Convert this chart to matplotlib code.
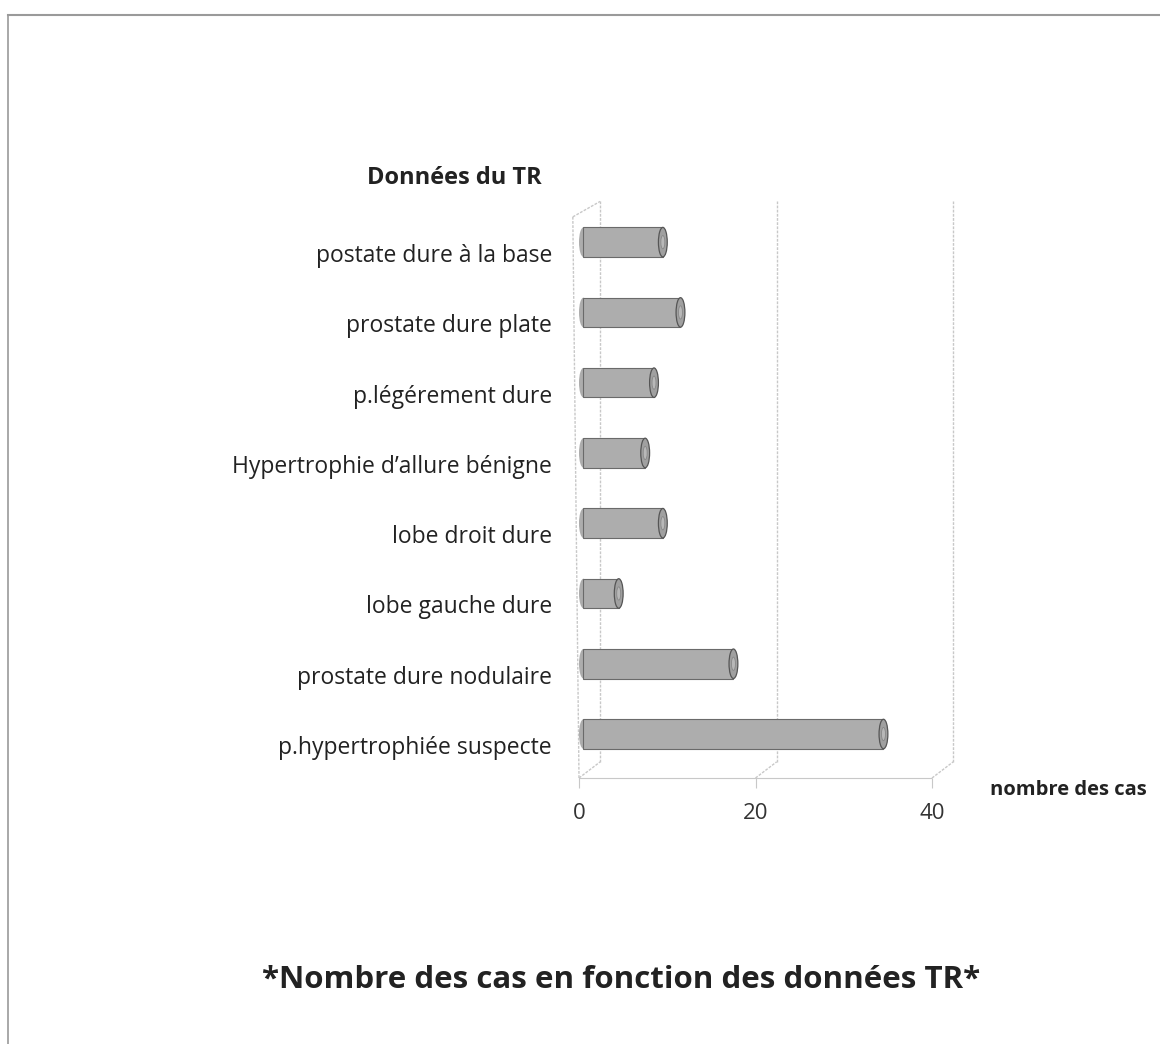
import matplotlib.pyplot as plt
from matplotlib.patches import Ellipse
from matplotlib.transforms import ScaledTranslation

# data (bottom to top)
categories = ["p.hypertrophiée suspecte", "prostate dure nodulaire", "lobe gauche dure",
              "lobe droit dure", "Hypertrophie d\u2019allure bénigne", "p.légérement dure",
              "prostate dure plate", "postate dure à la base"]
values = [34, 17, 4, 9, 7, 8, 11, 9]
xticks = [0, 20, 40]

plt.rcParams['font.family'] = ['Open Sans', 'DejaVu Sans']

fig = plt.figure(figsize=(11.6, 10.44), dpi=100)
# scanned page border
fig.add_artist(plt.Line2D([8/1160, 8/1160], [0, 1 - 15/1044], color='#9a9a9a', lw=1.2))
fig.add_artist(plt.Line2D([8/1160, 1], [1 - 15/1044, 1 - 15/1044], color='#9a9a9a', lw=1.5))

ax = fig.add_axes([579/1160, 1 - 778/1044, 353/1160, 578/1044])
ax.set_xlim(0, 40)
ax.set_ylim(-0.626, 7.6)

# fake 3D walls / gridlines
dx, dy = 2.4, 0.23
ybot, ytop = -0.626, 7.38
gc = '#c8c8c8'
for t in xticks:
    ax.plot([t + dx, t + dx], [ybot + dy, ytop + 0.2], color=gc, lw=1, ls=(0, (2, 1)), clip_on=False)
    ax.plot([t, t + dx], [ybot, ybot + dy], color=gc, lw=1, ls=(0, (2, 1)), clip_on=False)
ax.plot([-0.7, 0], [ytop - 0.02, ybot], color=gc, lw=1, ls=(0, (2, 1)), clip_on=False)
ax.plot([-0.7, dx], [ytop - 0.02, ytop + 0.2], color=gc, lw=1, ls=(0, (2, 1)), clip_on=False)

# cylinder bars
start = 0.5
h = 0.42
ypos = list(range(len(categories)))
ax.barh(ypos, values, left=start, height=h, color='#adadad', edgecolor='#6a6a6a', lw=0.8, zorder=3)
for y, v in zip(ypos, values):
    ax.add_patch(Ellipse((start + v, y), 1.0, h, facecolor='#a0a0a0', edgecolor='#555555', lw=0.9, zorder=4))
    ax.add_patch(Ellipse((start + v, y), 0.45, h * 0.45, facecolor='#b8b8b8', edgecolor='#888888', lw=0.6, zorder=5))
    ax.add_patch(Ellipse((start, y), 1.0, h, facecolor='#adadad', edgecolor='none', zorder=2))

ax.set_yticks(ypos)
ax.set_yticklabels(categories, fontsize=16.5, color='#222222')
ax.tick_params(axis='y', length=0, pad=19.5)
for lab in ax.get_yticklabels():
    lab.set_transform(lab.get_transform() + ScaledTranslation(0, -0.11, fig.dpi_scale_trans))

ax.set_xticks(xticks)
ax.set_xticklabels([str(t) for t in xticks], fontsize=16, color='#333333')
ax.tick_params(axis='x', length=7, color=gc, pad=11)

for s in ['top', 'right', 'left']:
    ax.spines[s].set_visible(False)
ax.spines['bottom'].set_color(gc)
ax.spines['bottom'].set_linestyle((0, (2, 1)))
ax.patch.set_alpha(0)

fig.text(454/1160, 1 - 178/1044, "Données du TR", fontsize=17, fontweight='bold',
         ha='center', va='center', color='#222222')
fig.text(990/1160, 1 - 790/1044, "nombre des cas", fontsize=14.5, fontweight='bold',
         ha='left', va='center', color='#222222')
fig.text(621/1160, 1 - 980/1044, "*Nombre des cas en fonction des données TR*", fontsize=22.5,
         fontweight='bold', ha='center', va='center', color='#222222')

fig.savefig("out.png", dpi=100, facecolor='white')
